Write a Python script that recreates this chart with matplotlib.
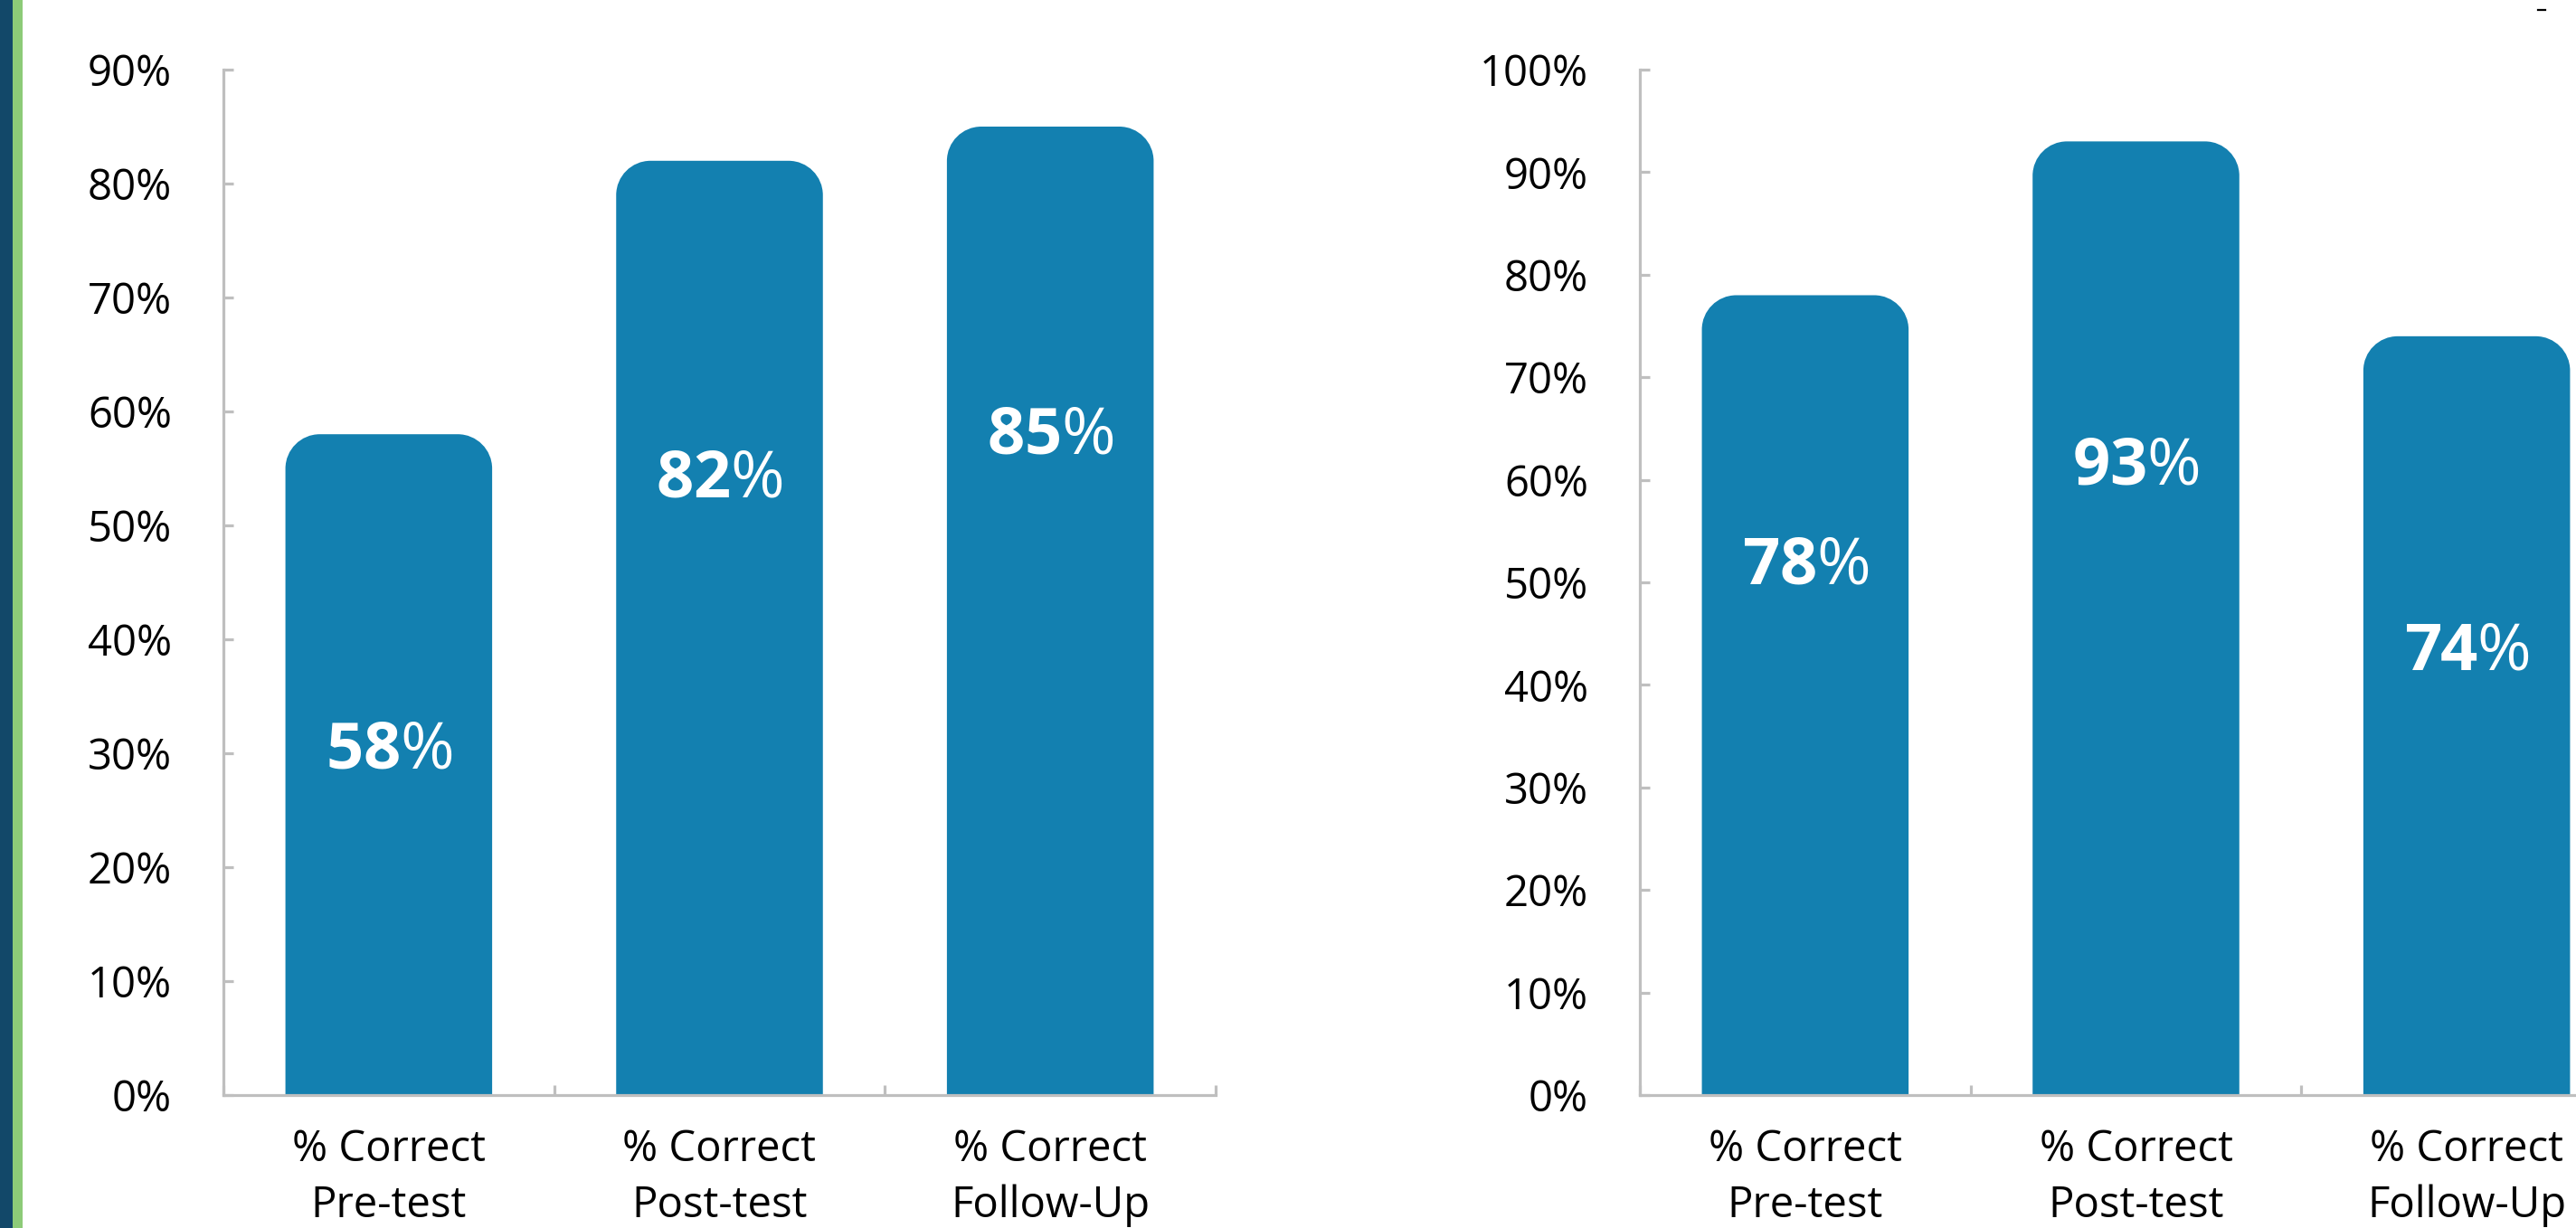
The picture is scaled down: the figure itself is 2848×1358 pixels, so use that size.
import matplotlib
matplotlib.use("Agg")
import matplotlib.pyplot as plt
from matplotlib.path import Path
from matplotlib.patches import PathPatch, Rectangle
from matplotlib.lines import Line2D
from matplotlib.ticker import FixedLocator, PercentFormatter

# ---------------- data ----------------
categories = ["% Correct\nPre-test", "% Correct\nPost-test", "% Correct\nFollow-Up"]
left_values = [58, 82, 85]
right_values = [78, 93, 74]
left_yticks = [0, 10, 20, 30, 40, 50, 60, 70, 80, 90]
right_yticks = [0, 10, 20, 30, 40, 50, 60, 70, 80, 90, 100]
# vertical placement of the value labels (data units)
left_label_y = [30.2, 54.0, 57.8]
right_label_y = [51.5, 61.2, 43.1]

# ---------------- style ----------------
FONT = "Open Sans"
plt.rcParams["font.family"] = [FONT, "DejaVu Sans"]
plt.rcParams["mathtext.fontset"] = "custom"
plt.rcParams["mathtext.bf"] = FONT + ":bold"
plt.rcParams["mathtext.rm"] = FONT

BAR = "#1380b0"
AXC = "#bfbfbf"
W, H, DPI = 2848, 1358, 100

fig = plt.figure(figsize=(W / DPI, H / DPI), dpi=DPI)
fig.patch.set_facecolor("white")

# left decorative stripes
fig.add_artist(Rectangle((0, 0), 14 / W, 1, transform=fig.transFigure,
                         facecolor="#124869", edgecolor="none"))
fig.add_artist(Rectangle((14 / W, 0), 11 / W, 1, transform=fig.transFigure,
                         facecolor="#8dcb78", edgecolor="none"))
# tiny dash at the top right
fig.add_artist(Line2D([2806 / W, 2814 / W], [1 - 11 / H, 1 - 11 / H],
                      transform=fig.transFigure, color="black", lw=1.6))

bottom = (H - 1211) / H
height = (1211 - 77) / H
ax_w = 1097 / W
axL = fig.add_axes([247 / W, bottom, ax_w, height])
axR = fig.add_axes([1813 / W, bottom, ax_w, height])


def rounded_top_bar(ax, bar, r_px=38):
    x0 = bar.get_x()
    w = bar.get_width()
    h = bar.get_height()
    x1 = x0 + w
    p0 = ax.transData.transform((0, 0))
    p1 = ax.transData.transform((1, 1))
    rx = r_px / (p1[0] - p0[0])
    ry = r_px / (p1[1] - p0[1])
    k = 0.5523
    verts = [
        (x0, 0), (x0, h - ry),
        (x0, h - ry + k * ry), (x0 + rx - k * rx, h), (x0 + rx, h),
        (x1 - rx, h),
        (x1 - rx + k * rx, h), (x1, h - ry + k * ry), (x1, h - ry),
        (x1, 0), (x0, 0),
    ]
    codes = [Path.MOVETO, Path.LINETO,
             Path.CURVE4, Path.CURVE4, Path.CURVE4,
             Path.LINETO,
             Path.CURVE4, Path.CURVE4, Path.CURVE4,
             Path.LINETO, Path.CLOSEPOLY]
    patch = PathPatch(Path(verts, codes), facecolor=BAR, edgecolor="none", zorder=2)
    ax.add_patch(patch)
    bar.set_visible(False)


def draw(ax, values, yticks, label_y):
    x = list(range(len(values)))
    ax.set_xlim(-0.5, len(values) - 0.5)
    ax.set_ylim(0, yticks[-1])
    bars = ax.bar(x, values, width=0.625, color=BAR)
    for b in bars:
        rounded_top_bar(ax, b)
    for xi, v, ly in zip(x, values, label_y):
        ax.text(xi, ly, r"$\mathbf{%d}$%%" % v, ha="center", va="center",
                color="white", fontsize=52, zorder=3)
    for s in ["top", "right"]:
        ax.spines[s].set_visible(False)
    for s in ["left", "bottom"]:
        ax.spines[s].set_color(AXC)
        ax.spines[s].set_linewidth(2.3)
    ax.yaxis.set_major_locator(FixedLocator(yticks))
    ax.yaxis.set_major_formatter(PercentFormatter(decimals=0))
    ax.tick_params(axis="y", direction="in", length=8, width=2.3, color=AXC,
                   labelsize=34, pad=41)
    ax.set_xticks(x)
    ax.set_xticklabels(categories, linespacing=1.42)
    ax.set_xticks([i - 0.5 for i in range(len(values) + 1)], minor=True)
    ax.tick_params(axis="x", which="major", length=0, labelsize=34, pad=26)
    ax.tick_params(axis="x", which="minor", direction="in", length=8, width=2.3,
                   color=AXC)
    ax.set_facecolor("none")


draw(axL, left_values, left_yticks, left_label_y)
draw(axR, right_values, right_yticks, right_label_y)

fig.savefig("out.png", dpi=DPI)
